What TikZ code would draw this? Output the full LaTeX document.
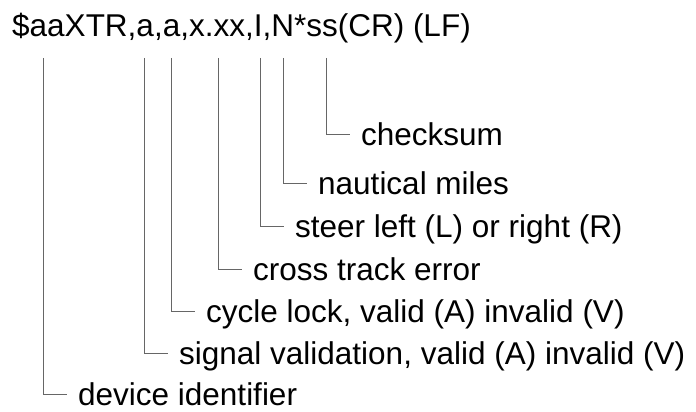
\documentclass[tikz,border=0pt]{standalone}
\usepackage{fontspec}
\setmainfont{Liberation Sans}
\begin{document}
\begin{tikzpicture}[x=1pt, y=-1pt, every node/.style={font=\fontsize{31.5}{38}\selectfont},
    field/.style={anchor=west, inner xsep=11pt, inner ysep=0pt, text height=22pt, text depth=0pt},
    lead/.style={draw=black!60, line width=1pt}]
    \useasboundingbox (0,0) rectangle (696,412);

    % Sentence
    \node[anchor=base west, inner sep=0pt] (hdr) at (12,37) {\$aaXTR,a,a,x.xx,I,N*ss(CR) (LF)};

    % Line tops under the fields
    \coordinate (tdev) at (43,58);
    \coordinate (tsig) at (144,58);
    \coordinate (tcyc) at (171,58);
    \coordinate (txte) at (218,58);
    \coordinate (tdir) at (260,58);
    \coordinate (tnm) at (283,58);
    \coordinate (tcks) at (326,58);

    % Field meanings
    \node[field] (cks) at (350,134) {checksum};
    \node[field] (nm) at (307,183) {nautical miles};
    \node[field] (dir) at (284,226) {steer left (L) or right (R)};
    \node[field] (xte) at (242,269) {cross track error};
    \node[field] (cyc) at (195,311) {cycle lock, valid (A) invalid (V)};
    \node[field] (sig) at (168,353) {signal validation, valid (A) invalid (V)};
    \node[field] (dev) at (67,394) {device identifier};

    % Leaders
    \draw[lead] (tcks) |- (cks.west);
    \draw[lead] (tnm) |- (nm.west);
    \draw[lead] (tdir) |- (dir.west);
    \draw[lead] (txte) |- (xte.west);
    \draw[lead] (tcyc) |- (cyc.west);
    \draw[lead] (tsig) |- (sig.west);
    \draw[lead] (tdev) |- (dev.west);
\end{tikzpicture}
\end{document}
